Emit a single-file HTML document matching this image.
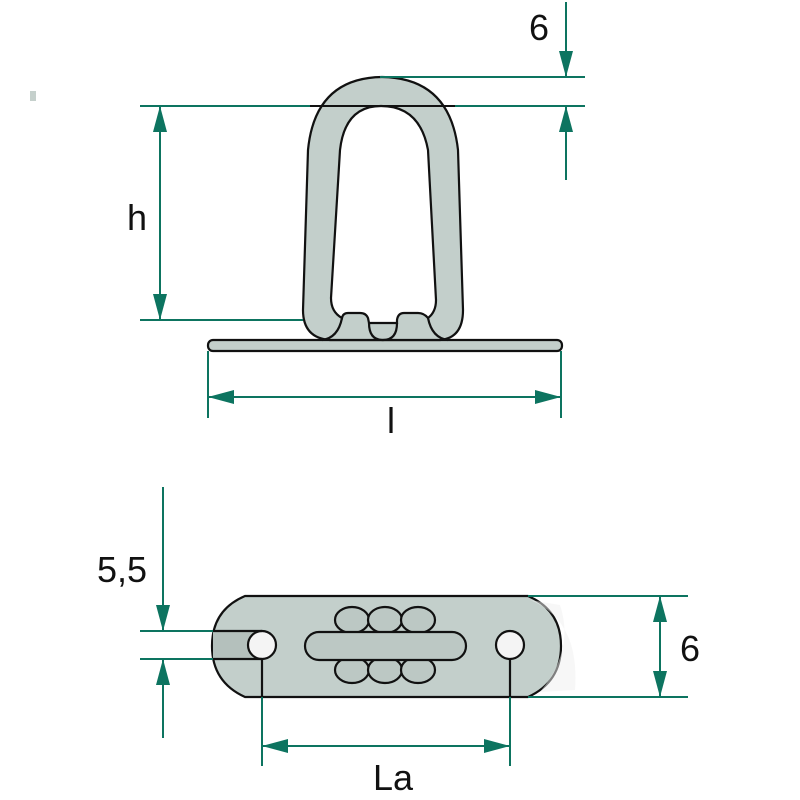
<!DOCTYPE html>
<html><head><meta charset="utf-8"><style>
html,body{margin:0;padding:0;background:#fff;width:800px;height:800px;overflow:hidden}
text{font-family:"Liberation Sans",sans-serif;font-size:36px;fill:#111}
</style></head><body>
<svg width="800" height="800" viewBox="0 0 800 800" xmlns="http://www.w3.org/2000/svg">
<defs>
<marker id="a" viewBox="0 0 26 14" refX="26" refY="7" markerWidth="26" markerHeight="14" markerUnits="userSpaceOnUse" orient="auto-start-reverse">
<path d="M0,0 L26,7 L0,14 z" fill="#0d7460"/></marker>
</defs>
<rect x="30" y="91" width="6" height="10" fill="#c5d0cc"/>
<!-- top view -->
<g stroke="#111" stroke-width="2.2" fill="#c3cfcb">
<rect x="208" y="340" width="354" height="11" rx="5"/>
<path d="M303,310 L308,150 Q315,78 382,77 Q450,78 458,150 L463,310 Q463,338 440,340 L330,340 Q303,338 303,310 Z"/>
<path fill="#fff" d="M340,150 Q345,106 381,106 Q420,106 428,150 L436,300 Q436,312 428,318 Q424,313 418,313 L404,313 Q398,313 397,320 L397,323 L369,323 L368,318 Q366,313 360,313 L348,313 Q343,313 342,318 Q331,312 331,298 Z"/>
<path fill="none" d="M342,318 Q338,338 322,340 M369,323 Q369,340 383,340 Q397,340 397,323 M428,318 Q432,338 448,340"/>
</g>
<g stroke="#0d7460" stroke-width="2" fill="none">
<line x1="380" y1="77" x2="585" y2="77"/>
<line x1="140" y1="106" x2="310" y2="106"/>
<line x1="455" y1="106" x2="585" y2="106"/>
<line x1="566" y1="2" x2="566" y2="77" marker-end="url(#a)"/>
<line x1="566" y1="180" x2="566" y2="106" marker-end="url(#a)"/>
<line x1="140" y1="320" x2="303" y2="320"/>
<line x1="160" y1="106" x2="160" y2="320" marker-start="url(#a)" marker-end="url(#a)"/>
<line x1="208" y1="351" x2="208" y2="418"/>
<line x1="561" y1="351" x2="561" y2="418"/>
<line x1="208" y1="397" x2="561" y2="397" marker-start="url(#a)" marker-end="url(#a)"/>
</g>
<line x1="310" y1="106" x2="455" y2="106" stroke="#111" stroke-width="2"/>
<text x="529" y="40">6</text>
<text x="127" y="230">h</text>
<text x="387" y="433">l</text>
<!-- bottom view -->
<path d="M245,596 L528,596 Q561,610 561,646 Q561,682 528,697 L245,697 Q212,682 212,646 Q212,610 245,596 Z" fill="#c3cfcb" stroke="#111" stroke-width="2.2"/>
<rect x="213" y="631" width="50" height="28" fill="#b4c0bc"/>
<path d="M530,600 Q580,620 575,690 L540,692 Q575,650 560,605 Z" fill="#f0f0f0" opacity="0.5"/>
<g stroke="#111" stroke-width="2.2" fill="#bcc8c4">
<ellipse cx="352" cy="620" rx="17" ry="13"/><ellipse cx="385" cy="620" rx="17" ry="13"/><ellipse cx="418" cy="620" rx="17" ry="13"/>
<ellipse cx="352" cy="670" rx="17" ry="13"/><ellipse cx="385" cy="670" rx="17" ry="13"/><ellipse cx="418" cy="670" rx="17" ry="13"/>
<rect x="305" y="632" width="161" height="28" rx="14"/>
<circle cx="262" cy="645" r="14" fill="#f4f4f4"/>
<circle cx="510" cy="645" r="14" fill="#f4f4f4"/>
<line x1="213" y1="631" x2="262" y2="631"/><line x1="213" y1="659" x2="262" y2="659"/>
<line x1="262" y1="659" x2="262" y2="697"/><line x1="510" y1="659" x2="510" y2="697"/>
</g>
<g stroke="#0d7460" stroke-width="2" fill="none">
<line x1="140" y1="631" x2="213" y2="631"/>
<line x1="140" y1="659" x2="213" y2="659"/>
<line x1="163" y1="487" x2="163" y2="631" marker-end="url(#a)"/>
<line x1="163" y1="738" x2="163" y2="659" marker-end="url(#a)"/>
<line x1="262" y1="697" x2="262" y2="766"/>
<line x1="510" y1="697" x2="510" y2="766"/>
<line x1="262" y1="746" x2="510" y2="746" marker-start="url(#a)" marker-end="url(#a)"/>
<line x1="528" y1="596" x2="688" y2="596"/>
<line x1="528" y1="697" x2="688" y2="697"/>
<line x1="660" y1="596" x2="660" y2="697" marker-start="url(#a)" marker-end="url(#a)"/>
</g>
<text x="97" y="582">5,5</text>
<text x="373" y="790">La</text>
<text x="680" y="661">6</text>
</svg>
</body></html>
